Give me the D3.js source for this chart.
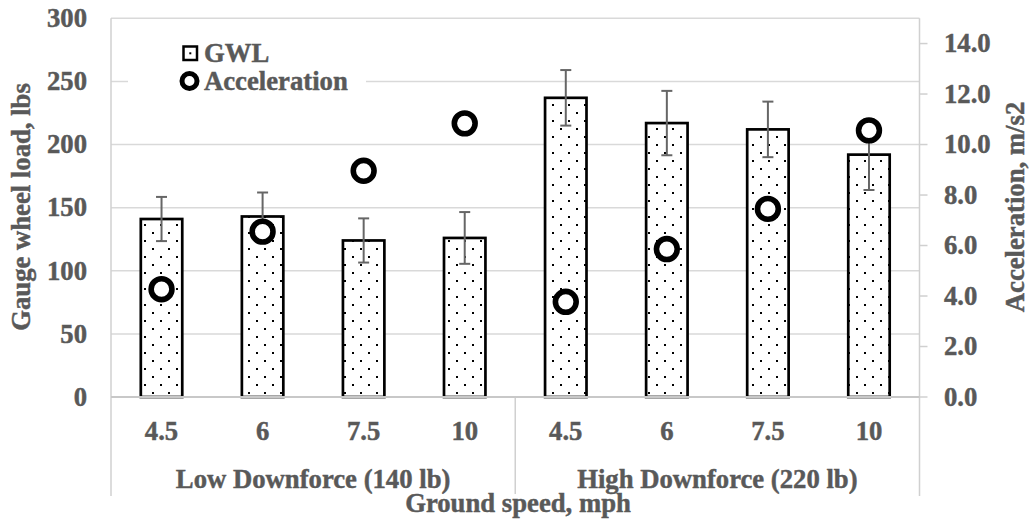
<!DOCTYPE html>
<html>
<head>
<meta charset="utf-8">
<script src="https://cdn.jsdelivr.net/npm/d3@7"></script>
<style>
  html, body { margin: 0; padding: 0; background: #fff; }
  svg { display: block; }
  text { font-family: "Liberation Serif", "Times New Roman", serif; font-weight: bold; fill: #595959; stroke: #595959; stroke-width: 0.45px; }
</style>
</head>
<body>
<svg id="chart" width="1034" height="520"></svg>
<script>
// ---- data ----
const speeds = ["4.5", "6", "7.5", "10", "4.5", "6", "7.5", "10"];
const groups = ["Low Downforce (140 lb)", "High Downforce (220 lb)"];
const gwl = [141, 143, 124, 126, 237, 217, 212, 192];
const gwlErr = [17.5, 19, 17.5, 20.5, 22, 25.5, 22, 28];
const acc = [4.27, 6.55, 8.96, 10.84, 3.77, 5.86, 7.45, 10.56];
const leftTicks = [0, 50, 100, 150, 200, 250, 300];
const rightTicks = [0, 2, 4, 6, 8, 10, 12, 14];

// ---- layout ----
const L = 111, R = 919.5, T = 18.3, B = 397;
const catBottom = 494;
const svg = d3.select("#chart");

const x = d3.scaleBand().domain(d3.range(speeds.length)).range([L, R]).paddingInner(0.59).paddingOuter(0.295);
const xStep = (R - L) / speeds.length;
const y = d3.scaleLinear().domain([0, 300]).range([B, T]);
const y2 = d3.scaleLinear().domain([0, 15]).range([B, T]);

// pattern
const defs = svg.append("defs");
const pat = defs.append("pattern").attr("id", "dots").attr("patternUnits", "userSpaceOnUse")
  .attr("width", 16).attr("height", 16);
pat.append("rect").attr("width", 16).attr("height", 16).attr("fill", "#fff");
pat.append("rect").attr("x", 0).attr("y", 0).attr("width", 2).attr("height", 2).attr("fill", "#000");
pat.append("rect").attr("x", 8).attr("y", 8).attr("width", 2).attr("height", 2).attr("fill", "#000");

// gridlines
svg.append("g").selectAll("line").data(leftTicks).join("line")
  .attr("x1", L).attr("x2", R).attr("y1", d => y(d)).attr("y2", d => y(d))
  .attr("stroke", "#d9d9d9").attr("stroke-width", 1.5);

// left axis line
svg.append("line").attr("x1", L).attr("x2", L).attr("y1", T).attr("y2", catBottom + 2)
  .attr("stroke", "#d0d0d0").attr("stroke-width", 1.5);
// right axis line + ticks
svg.append("line").attr("x1", R).attr("x2", R).attr("y1", T).attr("y2", catBottom + 2)
  .attr("stroke", "#d0d0d0").attr("stroke-width", 1.5);
svg.append("g").selectAll("line").data(rightTicks).join("line")
  .attr("x1", R).attr("x2", R + 8).attr("y1", d => y2(d)).attr("y2", d => y2(d))
  .attr("stroke", "#d0d0d0").attr("stroke-width", 1.5);
// group divider
svg.append("line").attr("x1", L + xStep * 4).attr("x2", L + xStep * 4).attr("y1", B).attr("y2", catBottom)
  .attr("stroke", "#d0d0d0").attr("stroke-width", 1.5);

// legend background
svg.append("rect").attr("x", 128).attr("y", 36).attr("width", 238).attr("height", 64).attr("fill", "#fff");

// bars
svg.append("g").selectAll("rect").data(gwl).join("rect")
  .attr("x", (d, i) => x(i)).attr("width", x.bandwidth())
  .attr("y", d => y(d)).attr("height", d => B - y(d))
  .attr("fill", "url(#dots)").attr("stroke", "#000").attr("stroke-width", 2.7);

// category axis line (over bars)
svg.append("line").attr("x1", L).attr("x2", R).attr("y1", B).attr("y2", B)
  .attr("stroke", "#c8c8c8").attr("stroke-width", 1.8);

// error bars
const eb = svg.append("g").attr("stroke", "#666").attr("stroke-width", 2);
gwl.forEach((v, i) => {
  const cx = x(i) + x.bandwidth() / 2;
  eb.append("line").attr("x1", cx).attr("x2", cx).attr("y1", y(v + gwlErr[i])).attr("y2", y(v - gwlErr[i]));
  eb.append("line").attr("x1", cx - 5.5).attr("x2", cx + 5.5).attr("y1", y(v + gwlErr[i])).attr("y2", y(v + gwlErr[i]));
  eb.append("line").attr("x1", cx - 5.5).attr("x2", cx + 5.5).attr("y1", y(v - gwlErr[i])).attr("y2", y(v - gwlErr[i]));
});

// acceleration markers
svg.append("g").selectAll("circle").data(acc).join("circle")
  .attr("cx", (d, i) => x(i) + x.bandwidth() / 2).attr("cy", d => y2(d)).attr("r", 10.4)
  .attr("fill", "#fff").attr("stroke", "#000").attr("stroke-width", 5.6);

// left tick labels
svg.append("g").selectAll("text").data(leftTicks).join("text")
  .attr("x", 87).attr("y", d => y(d)).attr("dy", "0.33em").attr("text-anchor", "end")
  .attr("font-size", 26.7).text(d => d);
// right tick labels
svg.append("g").selectAll("text").data(rightTicks).join("text")
  .attr("x", 944).attr("y", d => y2(d)).attr("dy", "0.33em").attr("text-anchor", "start")
  .attr("font-size", 26.7).text(d => d.toFixed(1));

// category labels
svg.append("g").selectAll("text").data(speeds).join("text")
  .attr("x", (d, i) => L + xStep * (i + 0.5)).attr("y", 439.5).attr("text-anchor", "middle")
  .attr("font-size", 26.7).text(d => d);
svg.append("g").selectAll("text").data(groups).join("text")
  .attr("x", (d, i) => L + xStep * (4 * i + 2)).attr("y", 487.5).attr("text-anchor", "middle")
  .attr("font-size", 26.7).text(d => d);

// axis titles
svg.append("text").attr("x", 518).attr("y", 511.5).attr("text-anchor", "middle")
  .attr("font-size", 26.7).text("Ground speed, mph");
svg.append("text").attr("transform", "translate(30,207) rotate(-90)").attr("text-anchor", "middle")
  .attr("font-size", 26.7).text("Gauge wheel load, lbs");
svg.append("text").attr("transform", "translate(1024,207) rotate(-90)").attr("text-anchor", "middle")
  .attr("font-size", 26.7).text("Acceleration, m/s2");

// legend
const lg = svg.append("g");
lg.append("rect").attr("x", 183.5).attr("y", 46.5).attr("width", 13.5).attr("height", 13.5)
  .attr("fill", "#fff").attr("stroke", "#000").attr("stroke-width", 2.5);
lg.append("rect").attr("x", 189.3).attr("y", 52.3).attr("width", 2).attr("height", 2).attr("fill", "#000");
lg.append("text").attr("x", 204).attr("y", 62.3).attr("font-size", 26.7).text("GWL");
lg.append("circle").attr("cx", 189.5).attr("cy", 81).attr("r", 7.5)
  .attr("fill", "#fff").attr("stroke", "#000").attr("stroke-width", 5);
lg.append("text").attr("x", 204).attr("y", 90).attr("font-size", 26.7).text("Acceleration");
</script>
</body>
</html>
